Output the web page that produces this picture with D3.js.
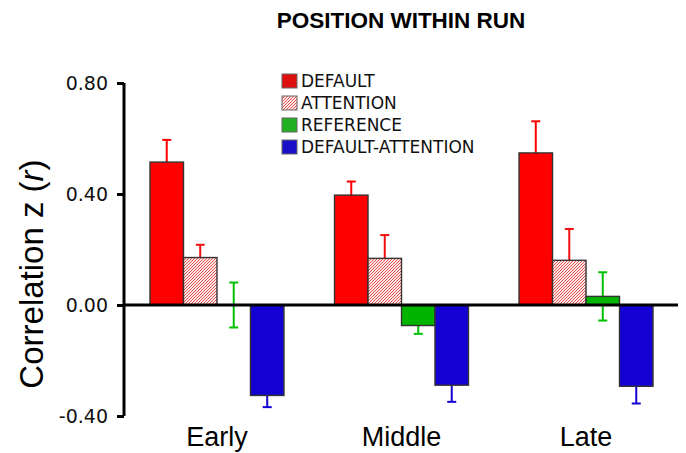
<!DOCTYPE html>
<html>
<head>
<meta charset="utf-8">
<script src="https://cdn.jsdelivr.net/npm/d3@7"></script>
<style>
  body { margin: 0; background: #fff; }
  svg { display: block; }
</style>
</head>
<body>
<svg width="686" height="453"></svg>
<script>
const positions = ["Early", "Middle", "Late"];
const conditions = ["DEFAULT", "ATTENTION", "REFERENCE", "DEFAULT-ATTENTION"];
const defaultVals = [0.515, 0.396, 0.548];
const defaultErr = [0.080, 0.049, 0.114];
const attentionVals = [0.171, 0.168, 0.161];
const attentionErr = [0.046, 0.084, 0.113];
const referenceVals = [0.000, -0.074, 0.031];
const referenceErr = [0.081, 0.030, 0.087];
const diffVals = [-0.326, -0.289, -0.293];
const diffErr = [0.042, 0.060, 0.062];
const yTicks = [-0.40, 0.00, 0.40, 0.80];

const svg = d3.select("svg");

const seriesVals = [defaultVals, attentionVals, referenceVals, diffVals];
const seriesErr = [defaultErr, attentionErr, referenceErr, diffErr];
const fills = ["#ff0000", "url(#hatch)", "#00b400", "#1400d2"];
const legendFills = ["#dd1010", "url(#hatch)", "#20b020", "#1a10c8"];
const errColors = ["#ff0000", "#f01010", "#00c000", "#1400d2"];

// flat table for drawing
const rows = [];
positions.forEach((p, i) => {
  conditions.forEach((c, j) => {
    rows.push({ pos: p, cond: c, value: seriesVals[j][i], err: seriesErr[j][i], k: j });
  });
});

const x = d3.scaleBand()
    .domain(positions)
    .range([125, 678])
    .paddingInner(0.274)
    .paddingOuter(0.1355);

const xi = d3.scaleBand()
    .domain(conditions)
    .range([0, x.bandwidth()]);

const y = d3.scaleLinear()
    .domain([-0.4, 0.8])
    .range([416, 83]);

// hatch pattern for ATTENTION
const defs = svg.append("defs");
const pat = defs.append("pattern")
    .attr("id", "hatch")
    .attr("patternUnits", "userSpaceOnUse")
    .attr("width", 3)
    .attr("height", 3);
pat.append("rect").attr("width", 3).attr("height", 3).attr("fill", "#fde8e8");
pat.append("path")
    .attr("d", "M-1,1 L1,-1 M0,3 L3,0 M2,4 L4,2")
    .attr("stroke", "#e84040")
    .attr("stroke-width", 0.9);

// title
svg.append("text")
    .attr("x", 401)
    .attr("y", 28)
    .attr("text-anchor", "middle")
    .style("font-family", "'Liberation Sans', Arial, sans-serif")
    .style("font-weight", "bold")
    .style("font-size", "22.5px")
    .text("POSITION WITHIN RUN");

// error bars (behind bars)
const eb = svg.append("g").attr("class", "errbars")
  .selectAll("g")
  .data(rows)
  .enter().append("g")
    .attr("stroke", d => errColors[d.k])
    .attr("stroke-width", 2);

const cx = d => x(d.pos) + xi(d.cond) + xi.bandwidth() / 2;

eb.append("line")
    .attr("x1", cx).attr("x2", cx)
    .attr("y1", d => y(d.value + d.err))
    .attr("y2", d => y(d.value - d.err));
eb.append("line")
    .attr("x1", d => cx(d) - 4.5).attr("x2", d => cx(d) + 4.5)
    .attr("y1", d => y(d.value + d.err))
    .attr("y2", d => y(d.value + d.err));
eb.append("line")
    .attr("x1", d => cx(d) - 4.5).attr("x2", d => cx(d) + 4.5)
    .attr("y1", d => y(d.value - d.err))
    .attr("y2", d => y(d.value - d.err));

// bars
svg.append("g").attr("class", "bars")
  .selectAll("rect")
  .data(rows.filter(d => d.value !== 0))
  .enter().append("rect")
    .attr("x", d => x(d.pos) + xi(d.cond))
    .attr("width", xi.bandwidth())
    .attr("y", d => y(Math.max(0, d.value)))
    .attr("height", d => Math.abs(y(d.value) - y(0)))
    .attr("fill", d => fills[d.k])
    .attr("stroke", "#333")
    .attr("stroke-width", 1.4);

// zero line
svg.append("line")
    .attr("x1", 123).attr("x2", 678)
    .attr("y1", y(0)).attr("y2", y(0))
    .attr("stroke", "#000")
    .attr("stroke-width", 3);

// y axis
const yAxis = svg.append("g")
    .attr("transform", "translate(124,0)")
    .call(d3.axisLeft(y)
        .tickValues(yTicks)
        .tickFormat(d => d.toFixed(2))
        .tickSize(7)
        .tickSizeOuter(0)
        .tickPadding(9));
yAxis.select(".domain").attr("stroke-width", 3).attr("d", `M0,${y(0.8)}V${y(-0.4)}`);
yAxis.selectAll(".tick line").attr("stroke-width", 3);
yAxis.selectAll(".tick text")
    .style("font-family", "'DejaVu Sans', Verdana, sans-serif")
    .style("font-size", "19px")
    .attr("fill", "#111");

// y label
svg.append("text")
    .attr("transform", "translate(43,274) rotate(-90)")
    .attr("text-anchor", "middle")
    .style("font-family", "'Liberation Sans', Arial, sans-serif")
    .style("font-size", "33px")
    .text("Correlation ")
  .append("tspan").text("z ")
  .append("tspan").text("(")
  .append("tspan").style("font-style", "italic").text("r")
  .append("tspan").style("font-style", "normal").text(")");

// x labels
svg.append("g").selectAll("text")
  .data(positions)
  .enter().append("text")
    .attr("x", d => x(d) + x.bandwidth() / 2)
    .attr("y", 446)
    .attr("text-anchor", "middle")
    .style("font-family", "'Liberation Sans', Arial, sans-serif")
    .style("font-size", "27px")
    .text(d => d);

// legend
const legend = svg.append("g").attr("class", "legend")
  .selectAll("g")
  .data(conditions)
  .enter().append("g")
    .attr("transform", (d, i) => `translate(282,${74 + i * 22})`);
legend.append("rect")
    .attr("width", 15)
    .attr("height", 14)
    .attr("fill", (d, i) => legendFills[i])
    .attr("stroke", "#666")
    .attr("stroke-width", 1);
legend.append("text")
    .attr("x", 19)
    .attr("y", 13)
    .style("font-family", "'DejaVu Sans', Verdana, sans-serif")
    .style("font-size", "17px")
    .attr("fill", "#111")
    .text(d => d);
</script>
</body>
</html>
